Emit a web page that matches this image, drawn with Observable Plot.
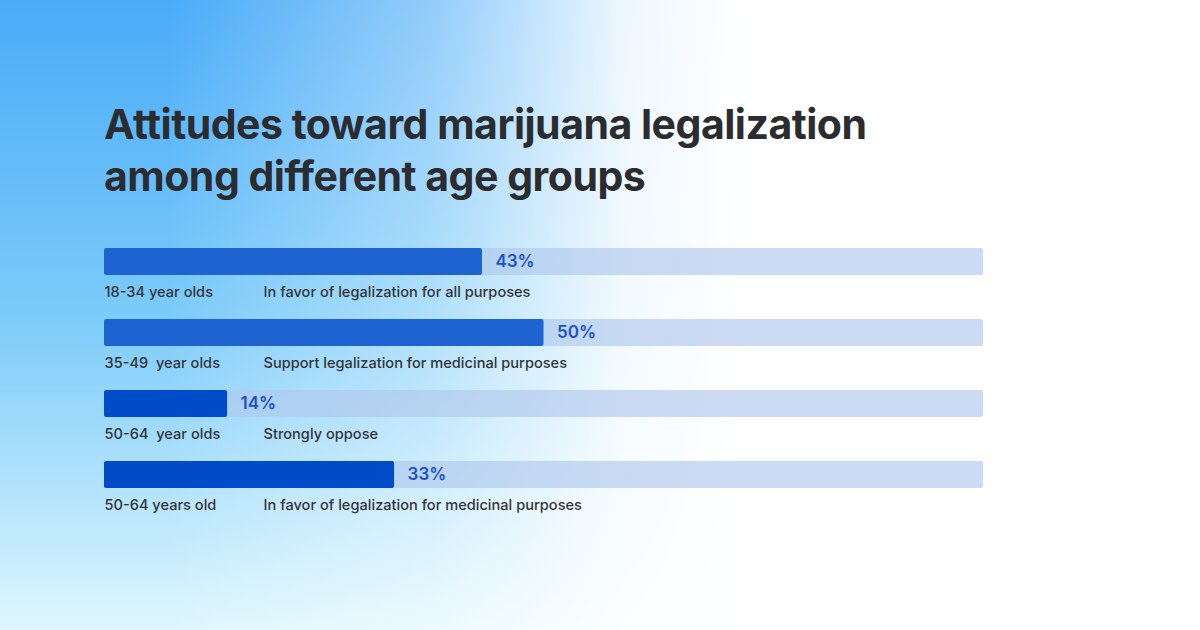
<!DOCTYPE html>
<html>
<head>
<meta charset="utf-8">
<script src="https://cdn.jsdelivr.net/npm/d3@7"></script>
<script src="https://cdn.jsdelivr.net/npm/@observablehq/plot@0.6"></script>
<style>
  html, body { margin: 0; padding: 0; }
  #page {
    position: relative; width: 1200px; height: 630px; overflow: hidden;
    background:
      linear-gradient(90deg, rgba(255,255,255,0) 0%, rgba(255,255,255,0) 14%, rgba(255,255,255,0.4) 36%, rgba(255,255,255,0.9) 52%, #fff 62%),
      linear-gradient(180deg, #4aabf8 0%, #7ccbfa 50%, #dff7fe 100%);
    font-family: Inter, "Noto Sans", sans-serif;
  }
  #title {
    position: absolute; left: 104px; top: 98px; margin: 0;
    font-size: 41px; line-height: 52px; font-weight: 700; color: #2b2c30;
    letter-spacing: -0.5px;
  }
  #chart { position: absolute; left: 0; top: 240px; }
</style>
</head>
<body>
<div id="page">
  <h1 id="title">Attitudes toward marijuana legalization<br>among different age groups</h1>
  <div id="chart"></div>
</div>
<script>
const groups = ["18-34 year olds", "35-49  year olds", "50-64  year olds", "50-64 years old"];
const opinions = ["In favor of legalization for all purposes", "Support legalization for medicinal purposes", "Strongly oppose", "In favor of legalization for medicinal purposes"];
const values = [43, 50, 14, 33];
const barColors = ["#1f63d0", "#1f63d0", "#004bc7", "#004bc7"];

const rows = groups.map((g, i) => ({key: i, group: g, opinion: opinions[i], value: values[i], color: barColors[i]}));

const chart = Plot.plot({
  width: 1200,
  height: 8 + 4 * 71 + 20,
  marginLeft: 104,
  marginRight: 217,
  marginTop: 8,
  marginBottom: 20,
  style: {background: "transparent", fontFamily: "Inter, 'Noto Sans', sans-serif", overflow: "visible"},
  x: {domain: [0, 100], axis: null},
  y: {domain: rows.map(d => d.key), axis: null, padding: 0},
  marks: [
    Plot.barX(rows, {x1: 0, x2: 100, y: "key", insetBottom: 44, fill: "rgb(176,200,237)", fillOpacity: 0.66, rx: 2}),
    Plot.barX(rows, {x1: 0, x2: "value", y: "key", insetBottom: 44, fill: "color", rx: 2}),
    Plot.text(rows, {x: "value", y: "key", text: d => d.value + "%", dx: 13, dy: -22, textAnchor: "start", fill: "#1a50c8", fontSize: 17, fontWeight: 600}),
    Plot.text(rows, {x: 0, y: "key", text: "group", dy: 8, textAnchor: "start", fill: "#333438", fontSize: 14.6, fontWeight: 500}),
    Plot.text(rows, {x: 0, y: "key", text: "opinion", dx: 159, dy: 8, textAnchor: "start", fill: "#333438", fontSize: 14.6, fontWeight: 500})
  ]
});
document.getElementById("chart").appendChild(chart);
</script>
</body>
</html>
